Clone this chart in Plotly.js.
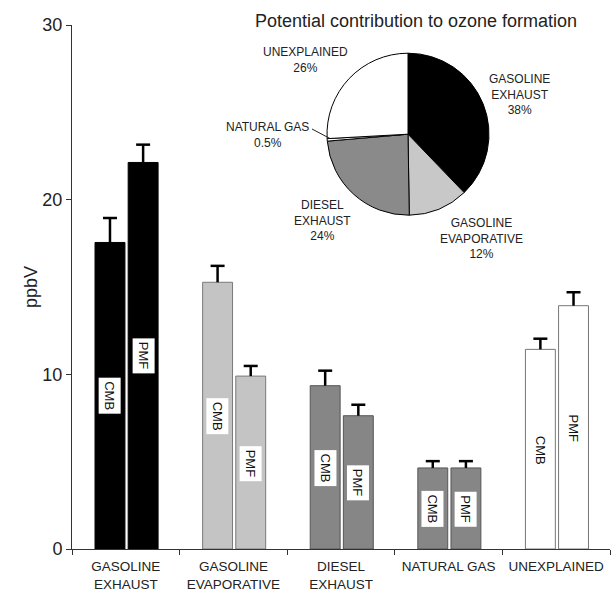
<!DOCTYPE html>
<html>
<head>
<meta charset="utf-8">
<script src="https://cdn.plot.ly/plotly-3.0.1.min.js"></script>
<style>html,body{margin:0;padding:0;background:#fff;}#chart{width:612px;height:592px;}</style>
</head>
<body>
<div id="chart"></div>
<script>
// ---- data ----
const categories = ["GASOLINE<br>EXHAUST", "GASOLINE<br>EVAPORATIVE", "DIESEL<br>EXHAUST", "NATURAL GAS", "UNEXPLAINED"];
const cmbValues = [17.55, 15.27, 9.35, 4.64, 11.43];
const cmbErrors = [1.40, 0.94, 0.86, 0.39, 0.61];
const pmfValues = [22.13, 9.90, 7.63, 4.64, 13.93];
const pmfErrors = [1.02, 0.58, 0.63, 0.39, 0.77];
const pieLabels = ["GASOLINE<br>EXHAUST", "GASOLINE<br>EVAPORATIVE", "DIESEL<br>EXHAUST", "NATURAL GAS", "UNEXPLAINED"];
const pieValues = [38, 12, 24, 0.5, 26];
const pieText = ["38%", "12%", "24%", "0.5%", "26%"];
const methodNames = ["CMB", "PMF"];
const yTicks = [0, 10, 20, 30];
const chartTitle = "Potential contribution to ozone formation";

// ---- styles / layout constants ----
const W = 612, H = 592;
const M = {l: 72, r: 2, t: 25, b: 43};
const FONT = "Liberation Sans, Arial, sans-serif";
const TXT = "#222";
const fillColors = ["#000000", "#c4c4c4", "#868686", "#868686", "#ffffff"];
const lineColors = ["#000000", "#7a7a7a", "#555555", "#555555", "#777777"];
const pieColors = ["#000000", "#c8c8c8", "#8a8a8a", "#ffffff", "#ffffff"];
const barW = 0.278, cmbOff = -0.286, pmfOff = 0.022;
// in-bar label heights (data units), CMB then PMF
const cmbLabelY = [8.75, 7.6, 4.65, 2.28, 5.66];
const pmfLabelY = [11.05, 4.9, 3.77, 2.28, 6.92];
// pie label placement (pixels: center x, middle y)
const pieLabelPx = [[519, 94.5], [481, 238.3], [322, 220], [267, 134.7], [305, 60.4]];

const plotW = W - M.l - M.r, plotH = H - M.t - M.b;
const px2x = p => (p - M.l) / plotW;
const py2y = p => (H - M.b - p) / plotH;
const idx = categories.map((c, i) => i);

function barTrace(name, vals, errs, off) {
  return {
    type: "bar", name: name, x: categories, y: vals,
    offset: off, width: barW,
    marker: {color: fillColors, line: {color: lineColors, width: 1}},
    error_y: {type: "data", array: errs, arrayminus: vals.map(() => 0), symmetric: false,
              color: "#000", thickness: 2.5, width: 0},
    hoverinfo: "skip", showlegend: false
  };
}
function capTrace(vals, errs, off) {
  return {
    type: "scatter", mode: "markers", xaxis: "x2", yaxis: "y",
    x: idx.map(i => i + off + barW / 2), y: vals.map((v, i) => v + errs[i]),
    marker: {symbol: "line-ew", size: 10, line: {color: "#000", width: 2.5}},
    hoverinfo: "skip", showlegend: false
  };
}

const traces = [
  barTrace(methodNames[0], cmbValues, cmbErrors, cmbOff),
  barTrace(methodNames[1], pmfValues, pmfErrors, pmfOff),
  capTrace(cmbValues, cmbErrors, cmbOff),
  capTrace(pmfValues, pmfErrors, pmfOff),
  {
    type: "pie", labels: pieLabels, values: pieValues, sort: false,
    direction: "clockwise", rotation: 0, textinfo: "none",
    marker: {colors: pieColors, line: {color: "#000", width: 1}},
    domain: {x: [px2x(327), px2x(489)], y: [py2y(215.2), py2y(53.2)]},
    showlegend: false, hoverinfo: "skip"
  }
];

const annotations = [];
categories.forEach((c, i) => {
  [[cmbOff, cmbLabelY[i], methodNames[0]], [pmfOff, pmfLabelY[i], methodNames[1]]].forEach(([off, yv, t]) => {
    annotations.push({
      x: i + off + barW / 2, y: yv, xref: "x2", yref: "y", text: t, showarrow: false,
      textangle: 90, font: {family: FONT, size: 13, color: "#111"},
      bgcolor: "#ffffff", borderpad: 3
    });
  });
});
pieLabels.forEach((l, i) => {
  annotations.push({
    x: px2x(pieLabelPx[i][0]), y: py2y(pieLabelPx[i][1]), xref: "paper", yref: "paper",
    text: l + "<br>" + pieText[i], showarrow: false, align: "center",
    xanchor: "center", yanchor: "middle",
    font: {family: FONT, size: 12, color: TXT}
  });
});

const layout = {
  width: W, height: H,
  margin: M,
  paper_bgcolor: "#fff", plot_bgcolor: "#fff",
  barmode: "overlay",
  font: {family: FONT, color: TXT},
  title: {text: chartTitle, x: 416 / W, xanchor: "center", y: 1 - 21 / H, yanchor: "middle",
          font: {family: FONT, size: 18, color: TXT}},
  xaxis: {
    type: "category", range: [-0.5, 4.5], tickson: "boundaries",
    ticks: "outside", ticklen: 5, tickcolor: "#333", tickwidth: 1,
    showline: true, linecolor: "#333", linewidth: 1, showgrid: false, zeroline: false,
    tickfont: {family: FONT, size: 13.5, color: TXT}, ticklabelstandoff: 5, fixedrange: true
  },
  xaxis2: {
    type: "linear", overlaying: "x", range: [-0.5, 4.5], visible: false, fixedrange: true
  },
  yaxis: {
    range: [0, 30], tickvals: yTicks, ticks: "outside", ticklen: 5, tickcolor: "#333",
    showline: true, linecolor: "#333", linewidth: 1, showgrid: false, zeroline: false,
    tickfont: {family: FONT, size: 18, color: TXT},
    title: {text: "ppbV", font: {family: FONT, size: 18, color: TXT}, standoff: 0},
    fixedrange: true
  },
  annotations: annotations,
  shapes: [{type: "line", xref: "paper", yref: "paper",
            x0: px2x(312), y0: py2y(129), x1: px2x(330), y1: py2y(138.5),
            line: {color: "#222", width: 1}}]
};

Plotly.newPlot("chart", traces, layout, {displayModeBar: false, staticPlot: true});
</script>
</body>
</html>
